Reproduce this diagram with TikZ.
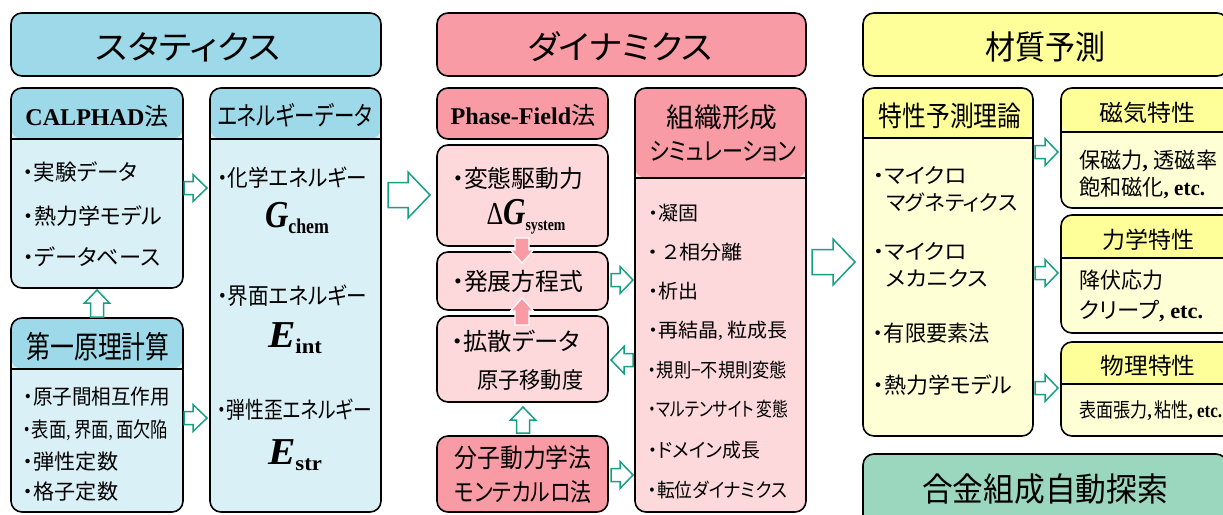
\documentclass[tikz,border=0pt]{standalone}
\usepackage{graphicx}
\usepackage{fontspec}
\setmainfont{Noto Sans CJK JP}[RawFeature=+palt]
\newfontfamily\tnr{Liberation Serif}
\usetikzlibrary{calc}
\definecolor{bhd}{HTML}{9DD9E8}
\definecolor{bbd}{HTML}{DAF0F7}
\definecolor{phd}{HTML}{F99BA4}
\definecolor{pbd}{HTML}{FDD9DC}
\definecolor{yhd}{HTML}{FFFF99}
\definecolor{ybd}{HTML}{FFFFD6}
\definecolor{tealbox}{HTML}{9BD6BE}
\definecolor{arrowc}{HTML}{17A084}
\newcommand\fs[1]{\fontsize{#1}{#1}\selectfont}
\newcommand\fitw[3]{\resizebox{#1pt}{\height}{\fs{#2}#3}}
\newcommand\bigsym[3]{{\fs{38}\tnr\bfseries\itshape #1}\raisebox{-6pt}{\fs{#3}\tnr\bfseries #2}}
\newcommand\bx[6]{\node[box,minimum width={(#4-#2)*1pt},minimum height={(#5-#3)*1pt},#6] (#1) at (#2,#3) {};}
\newcommand\harrow[8]{\draw[#1,shift={(#2,#3)},rotate=#4] (0,-#6) -- ({#5-#8},-#6) -- ({#5-#8},-#7) -- (#5,0) -- ({#5-#8},#7) -- ({#5-#8},#6) -- (0,#6) -- cycle;}
\tikzset{
  box/.style={draw=black,line width=1.6pt,rounded corners=11pt,anchor=north west,inner sep=0pt,outer sep=0pt},
  hdr/.style 2 args={path picture={\fill[#1] ([yshift=3pt]path picture bounding box.north west) rectangle ([yshift=-#2]path picture bounding box.north east);
      \draw[line width=1.6pt] ([yshift=-#2]path picture bounding box.north west) -- ([yshift=-#2]path picture bounding box.north east);}},
  txt/.style={inner sep=0pt,anchor=west},
  ctxt/.style={inner sep=0pt},
  harr/.style={draw=arrowc,fill=white,line width=1.5pt,line join=miter},
  parr/.style={draw=white,fill=phd,line width=1.2pt,line join=miter},
}
\begin{document}
\begin{tikzpicture}[x=1pt,y=-1pt]
\useasboundingbox (0,0) rectangle (1223,514);
\clip (0,0) rectangle (1223,514);
\fill[white] (0,0) rectangle (1223,514);
% ---- top titles
\bx{tStat}{11}{13}{381}{76}{fill=bhd}
\bx{tDyn}{437}{13}{806}{76}{fill=phd}
\bx{tMat}{863}{13}{1228}{76}{fill=yhd}
\node[ctxt] (tStatT) at (188,47) {\fitw{185}{33}{スタティクス}};
\node[ctxt] (tDynT) at (620,47) {\fitw{185}{33}{ダイナミクス}};
\node[ctxt] (tMatT) at (1045,47) {\fitw{120}{33}{材質予測}};
% ---- statics
\bx{calph}{11}{88}{183}{288}{fill=bbd,hdr={bhd}{51pt}}
\bx{energy}{210}{88}{381}{512}{fill=bbd,hdr={bhd}{51pt}}
\bx{first}{11}{318}{183}{512}{fill=bbd,hdr={bhd}{51pt}}
\node[ctxt] (calphT) at (97,116) {\fitw{143}{24}{\tnr\bfseries CALPHAD\rmfamily\mdseries 法}};
\node[ctxt] (energyT) at (295,115) {\fitw{155}{26}{エネルギーデータ}};
\node[ctxt] (firstT) at (98,347) {\fitw{143}{31}{第一原理計算}};
\node[txt] (c1) at (23,172) {\fitw{114}{22}{・実験データ}};
\node[txt] (c2) at (23,216) {\fitw{139}{22}{・熱力学モデル}};
\node[txt] (c3) at (23,257) {\fitw{137}{22}{・データベース}};
\node[txt] (e1) at (217,178) {\fitw{150}{23}{・化学エネルギー}};
\node[ctxt] (e2) at (297,218) {\fitw{64}{10}{\bigsym{G}{chem}{21}}};
\node[txt] (e3) at (217,296) {\fitw{150}{23}{・界面エネルギー}};
\node[ctxt] (e4) at (295,338) {\fitw{54}{10}{\bigsym{E}{int}{21}}};
\node[txt] (e5) at (217,410) {\fitw{155}{23}{・弾性歪エネルギー}};
\node[ctxt] (e6) at (295,455) {\fitw{54}{10}{\bigsym{E}{str}{21}}};
\node[txt] (f1) at (23,397) {\fitw{147}{21}{・原子間相互作用}};
\node[txt] (f2) at (23,430) {\fitw{145}{21}{・表面{\tnr,}\hspace{4pt}界面{\tnr,}\hspace{4pt}面欠陥}};
\node[txt] (f3) at (23,462) {\fitw{95}{21}{・弾性定数}};
\node[txt] (f4) at (23,492) {\fitw{95}{21}{・格子定数}};
% ---- dynamics
\bx{pf}{437}{88}{608}{139}{fill=phd}
\bx{dG}{437}{145}{608}{246}{fill=pbd}
\bx{evo}{437}{252}{608}{310}{fill=pbd}
\bx{diff}{437}{316}{608}{402}{fill=pbd}
\bx{md}{437}{436}{608}{512}{fill=phd}
\bx{sim}{635}{88}{806}{512}{fill=pbd,hdr={phd}{90pt}}
\node[ctxt] (pfT) at (523,115) {\fitw{145}{24}{\tnr\bfseries Phase-Field\rmfamily\mdseries 法}};
\node[txt] (d1) at (452,178) {\fitw{131}{24}{・変態駆動力}};
\node[ctxt] (d2) at (526,217) {\fitw{79}{10}{{\fs{32}\tnr Δ}\bigsym{G}{system}{17}}};
\node[txt] (v1) at (452,281) {\fitw{131}{24}{・発展方程式}};
\node[txt] (df1) at (451,341) {\fitw{129}{24}{・拡散データ}};
\node[txt] (df2) at (477,380) {\fitw{106}{22.5}{原子移動度}};
\node[ctxt] (md1) at (523,458) {\fitw{137}{26}{分子動力学法}};
\node[ctxt] (md2) at (523,492) {\fitw{137}{25}{モンテカルロ法}};
\node[ctxt] (simT1) at (722,117) {\fitw{111}{27}{組織形成}};
\node[ctxt] (simT2) at (723,152) {\fitw{147}{25}{シミュレーション}};
\node[txt] (s1) at (648,213) {\fitw{50}{19.5}{・凝固}};
\node[txt] (s2) at (648,252) {\fitw{94}{19.5}{・\hspace{4pt}２相分離}};
\node[txt] (s3) at (648,291) {\fitw{50}{19.5}{・析出}};
\node[txt] (s4) at (648,331) {\fitw{139}{19.5}{・再結晶{\tnr,}\hspace{4pt}粒成長}};
\node[txt] (s5) at (648,370) {\fitw{139}{19.5}{・規則−不規則変態}};
\node[txt] (s6) at (648,409) {\fitw{140}{19.5}{・マルテンサイト\hspace{3pt}変態}};
\node[txt] (s7) at (648,450) {\fitw{112}{19.5}{・ドメイン成長}};
\node[txt] (s8) at (648,490) {\fitw{139}{19.5}{・転位ダイナミクス}};
% ---- material
\bx{pred}{863}{88}{1033}{436}{fill=ybd,hdr={yhd}{50pt}}
\bx{mag}{1061}{88}{1233}{208}{fill=ybd,hdr={yhd}{44pt}}
\bx{mech}{1061}{215}{1233}{333}{fill=ybd,hdr={yhd}{43pt}}
\bx{phys}{1061}{342}{1233}{436}{fill=ybd,hdr={yhd}{42pt}}
\bx{alloy}{863}{454}{1227}{540}{fill=tealbox}
\node[ctxt] (predT) at (950,116) {\fitw{143}{28}{特性予測理論}};
\node[txt] (p1) at (873,175) {\fitw{94}{21}{・マイクロ}};
\node[txt] (p2) at (886,202) {\fitw{131}{21}{マグネティクス}};
\node[txt] (p3) at (873,251) {\fitw{94}{21}{・マイクロ}};
\node[txt] (p4) at (886,278) {\fitw{102}{21}{メカニクス}};
\node[txt] (p5) at (873,333) {\fitw{117}{22}{・有限要素法}};
\node[txt] (p6) at (873,385) {\fitw{139}{22}{・熱力学モデル}};
\node[ctxt] (magT) at (1147,113) {\fitw{96}{23}{磁気特性}};
\node[ctxt] (mechT) at (1148,240) {\fitw{92}{23}{力学特性}};
\node[ctxt] (physT) at (1148,366) {\fitw{95}{23}{物理特性}};
\node[txt] (m1) at (1079,161) {\fitw{138}{22}{保磁力{\tnr\bfseries ,}\hspace{6pt}透磁率}};
\node[txt] (m2) at (1079,188) {\fitw{126}{22}{飽和磁化{\tnr\bfseries , etc.}}};
\node[txt] (k1) at (1079,280) {\fitw{84}{22}{降伏応力}};
\node[txt] (k2) at (1079,311) {\fitw{124}{22}{クリープ{\tnr\bfseries , etc.}}};
\node[txt] (h1) at (1079,411) {\fitw{143}{20}{表面張力{\tnr\bfseries ,}\hspace{3pt}粘性{\tnr\bfseries , etc.}}};
\node[ctxt] (alloyT) at (1045,489) {\fitw{246}{33}{合金組成自動探索}};
% ---- hollow arrows
\harrow{harr}{184}{188}{0}{23}{6.5}{13.5}{14}
\harrow{harr}{184}{418}{0}{23}{6.5}{13.5}{14}
\harrow{harr}{97}{317}{90}{27}{6.5}{12.5}{13}
\harrow{harr}{388}{195}{0}{42}{12.5}{23}{22}
\harrow{harr}{611}{280}{0}{22}{6.5}{13.5}{13}
\harrow{harr}{633}{360}{180}{22}{6.5}{13.5}{13}
\harrow{harr}{611}{475}{0}{22}{6.5}{13.5}{13}
\harrow{harr}{523}{433}{90}{26}{6.5}{12.5}{13}
\harrow{harr}{812}{262}{0}{43}{12.5}{23}{22}
\harrow{harr}{1035}{152}{0}{23}{6.5}{13.5}{13}
\harrow{harr}{1035}{273}{0}{23}{6.5}{13.5}{13}
\harrow{harr}{1035}{388}{0}{23}{6.5}{13.5}{13}
% ---- pink arrows
\harrow{parr}{522}{238}{-90}{25}{7}{11.5}{13}
\harrow{parr}{522}{325}{90}{27}{7}{11.5}{13}
\end{tikzpicture}
\end{document}
